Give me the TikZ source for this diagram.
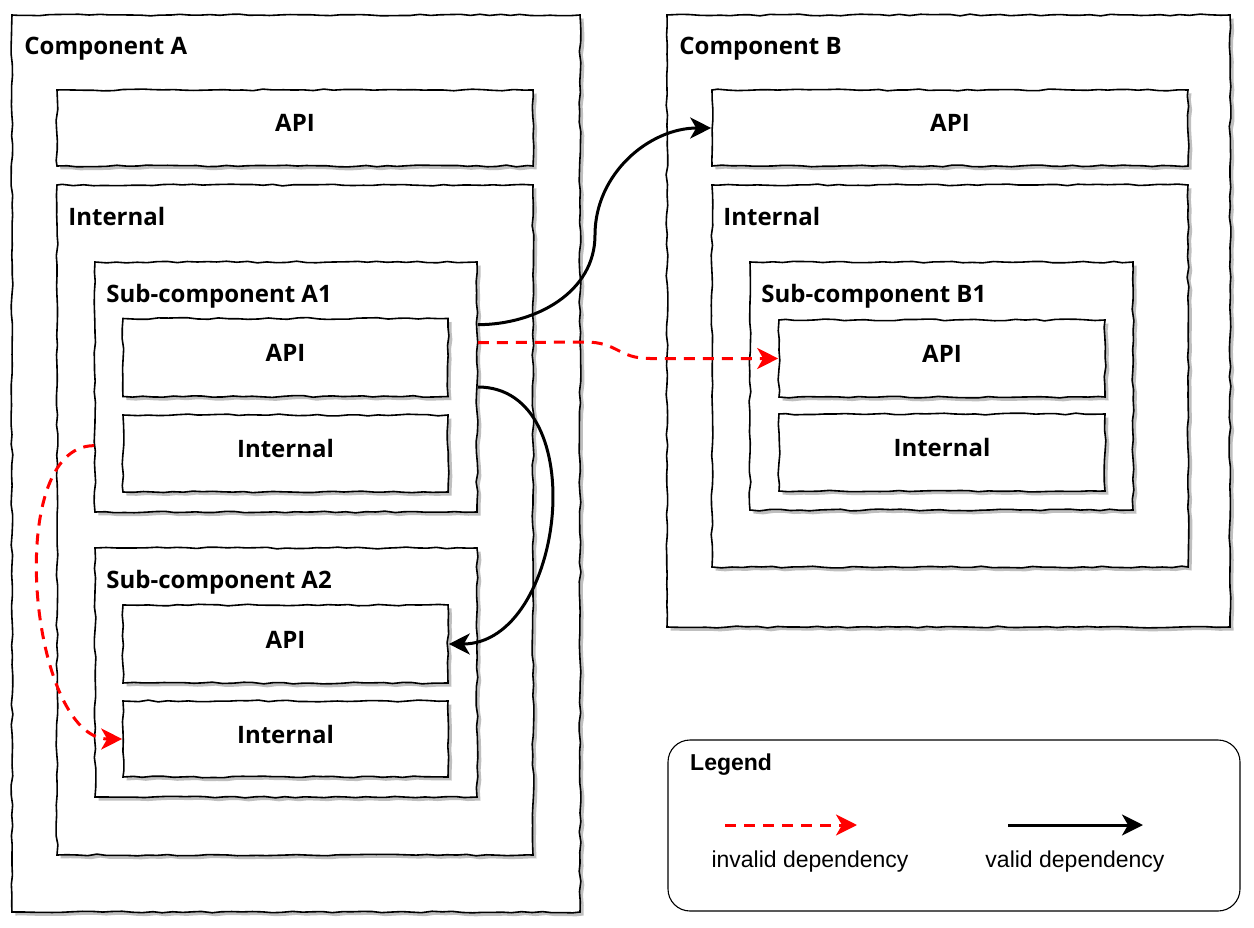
\documentclass[tikz,border=0pt]{standalone}
\usepackage{fontspec}
\setmainfont{Open Sans}
\newfontfamily\legendfont{Liberation Sans}
\usetikzlibrary{positioning,decorations.pathmorphing,arrows.meta}

\begin{document}
\begin{tikzpicture}[x=1pt,y=-1pt]
\pgfmathsetseed{11}
\tikzstyle{sketch}=[draw,line width=1.6pt,fill=white,inner sep=0pt,
    decorate,decoration={random steps,segment length=10pt,amplitude=0.9pt},
    preaction={fill=black!25,transform canvas={xshift=3.5pt,yshift=-3.5pt}},
    text height=17pt,text depth=9pt,
    font=\bfseries\fontsize{24}{28}\selectfont]
\tikzstyle{boxtitle}=[inner sep=0pt,font=\bfseries\fontsize{24}{28}\selectfont]
\tikzstyle{valid}=[line width=3pt,-{Stealth[length=21pt,width=21pt,inset=6pt]}]
\tikzstyle{invalid}=[valid,red,dash pattern=on 11pt off 8pt]
\useasboundingbox (0,0) rectangle (1254,928);

% component A
\node[sketch,minimum width=568,minimum height=897] (compA) at (296,463.5) {};
\node[boxtitle,below right=23pt and 13pt of compA.north west] (titleA) {Component A};
\node[sketch,minimum width=476,minimum height=76] (apiA) at (295,128) {API};
\node[sketch,minimum width=476,minimum height=670] (intA) at (295,520) {};
\node[boxtitle,below right=23pt and 12pt of intA.north west] (titleIntA) {Internal};
\node[sketch,minimum width=382,minimum height=250] (subA1) at (286,387) {};
\node[boxtitle,below right=23pt and 12pt of subA1.north west] (titleA1) {Sub-component A1};
\node[sketch,minimum width=325,minimum height=78] (apiA1) at (285.5,357.5) {API};
\node[sketch,minimum width=325,minimum height=77] (intA1) at (285.5,453.5) {Internal};
\node[sketch,minimum width=382,minimum height=249] (subA2) at (286,672.5) {};
\node[boxtitle,below right=23pt and 12pt of subA2.north west] (titleA2) {Sub-component A2};
\node[sketch,minimum width=325,minimum height=78] (apiA2) at (285.5,644) {API};
\node[sketch,minimum width=325,minimum height=76] (intA2) at (285.5,739) {Internal};

% component B
\node[sketch,minimum width=563,minimum height=612] (compB) at (948.5,321) {};
\node[boxtitle,below right=23pt and 13pt of compB.north west] (titleB) {Component B};
\node[sketch,minimum width=476,minimum height=76] (apiB) at (950,128) {API};
\node[sketch,minimum width=476,minimum height=382] (intB) at (950,376) {};
\node[boxtitle,below right=23pt and 12pt of intB.north west] (titleIntB) {Internal};
\node[sketch,minimum width=383,minimum height=248] (subB1) at (941.5,386) {};
\node[boxtitle,below right=23pt and 12pt of subB1.north west] (titleB1) {Sub-component B1};
\node[sketch,minimum width=326,minimum height=77] (apiB1) at (942,358.5) {API};
\node[sketch,minimum width=326,minimum height=77] (intB1) at (942,452.5) {Internal};

% dependencies
\coordinate (viaB) at (595,235);
\coordinate (bendL) at (585,342);
\coordinate (bendR) at (650,358.5);
\draw[valid] (subA1.18.5) to[out=0,in=-90] (viaB) to[out=90,in=180] (apiB.west);
\draw[invalid] (subA1.13.3) -- (bendL) .. controls (618,342) and (618,358.5) .. (bendR) -- (apiB1.west);
\draw[valid] (subA1.east) to[out=0,in=0,looseness=1.15] (apiA2.east);
\draw[invalid] (subA1.197.7) to[out=180,in=180,looseness=0.8] (intA2.west);

% legend
\node[draw,line width=1.1pt,rounded corners=22pt,minimum width=572,minimum height=171] (legend) at (954,825.5) {};
\node[inner sep=0pt,anchor=west,font=\legendfont\bfseries\fontsize{23}{27}\selectfont] (legendTitle) at (690,765) {Legend};
\coordinate (invS) at (725,825);
\coordinate (invE) at (857,825);
\coordinate (valS) at (1008,825);
\coordinate (valE) at (1143,825);
\draw[invalid] (invS) -- (invE);
\draw[valid] (valS) -- (valE);
\node[font=\legendfont\fontsize{23}{27}\selectfont] (invText) at (810,862) {invalid dependency};
\node[font=\legendfont\fontsize{23}{27}\selectfont] (valText) at (1075,862) {valid dependency};
\end{tikzpicture}
\end{document}
